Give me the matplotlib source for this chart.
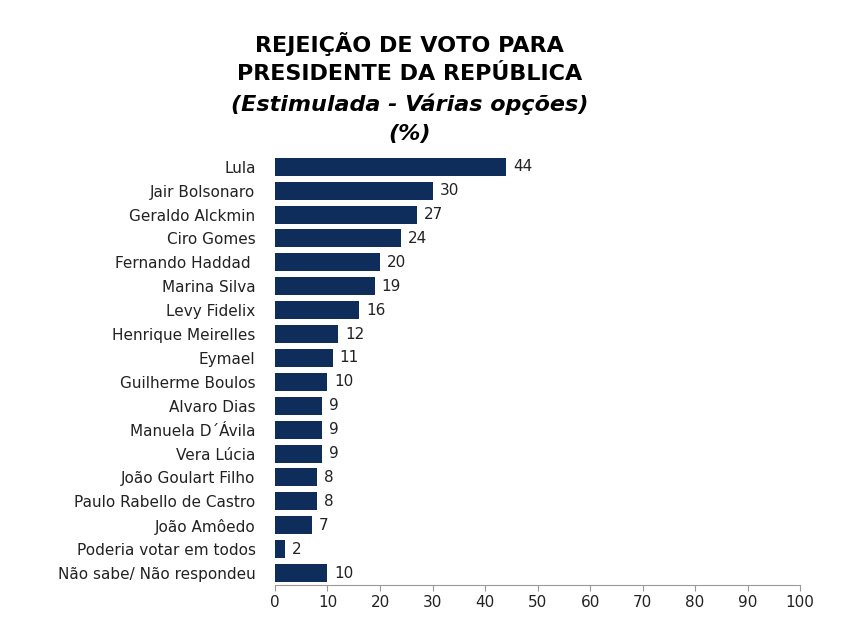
import matplotlib
matplotlib.use("Agg")
import matplotlib.pyplot as plt

categories = ["Lula", "Jair Bolsonaro", "Geraldo Alckmin", "Ciro Gomes", "Fernando Haddad ",
              "Marina Silva", "Levy Fidelix", "Henrique Meirelles", "Eymael", "Guilherme Boulos",
              "Alvaro Dias", "Manuela D´Ávila", "Vera Lúcia", "João Goulart Filho",
              "Paulo Rabello de Castro", "João Amôedo", "Poderia votar em todos",
              "Não sabe/ Não respondeu"]
values = [44, 30, 27, 24, 20, 19, 16, 12, 11, 10, 9, 9, 9, 8, 8, 7, 2, 10]
xticks = list(range(0, 101, 10))

fig = plt.figure(figsize=(8.68, 6.28), dpi=100)
ax = fig.add_axes([0.3168, 0.0685, 0.605, 0.685])
y = list(range(len(categories)))
ax.barh(y, values, height=0.75, color="#0e2d5a")
for yi, v in zip(y, values):
    ax.text(v + 1.3, yi, str(v), va="center", ha="left", fontsize=11, color="#222222")
ax.set_yticks(y)
ax.set_yticklabels(categories, fontsize=11, color="#222222")
ax.set_ylim(len(categories) - 0.5, -0.5)
ax.set_xlim(0, 100)
ax.set_xticks(xticks)
ax.set_xticklabels([str(t) for t in xticks], fontsize=11, color="#222222")
for s in ["top", "right", "left"]:
    ax.spines[s].set_visible(False)
ax.spines["bottom"].set_color("#999999")
ax.tick_params(axis="y", length=0, pad=14)
ax.tick_params(axis="x", length=4, color="#999999")

fig.text(0.472, 0.93, "REJEIÇÃO DE VOTO PARA", ha="center", va="center", fontsize=16, fontweight="bold")
fig.text(0.472, 0.882, "PRESIDENTE DA REPÚBLICA", ha="center", va="center", fontsize=16, fontweight="bold")
fig.text(0.472, 0.834, "(Estimulada - Várias opções)", ha="center", va="center", fontsize=16, fontweight="bold", style="italic")
fig.text(0.472, 0.786, "(%)", ha="center", va="center", fontsize=16, fontweight="bold", style="italic")
fig.savefig("out.png", dpi=100)
